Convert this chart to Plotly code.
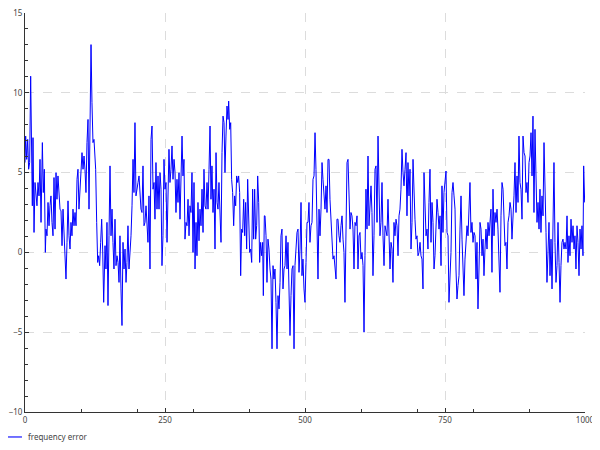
import plotly.graph_objects as go

# sample index and frequency error values
sample = [
    0, 1.2, 3.0, 4.8, 6.5, 8.3, 10.1, 11.9, 13.1, 14.3, 16.1, 17.9, 19.6, 21.4, 23.2, 25.0, 26.8, 28.6,
    31.0, 32.7, 34.5, 36.3, 37.5, 39.3, 41.1, 42.9, 44.6, 46.4, 48.2, 50.0, 51.8, 53.6, 55.4, 57.1,
    58.9, 60.7, 62.5, 64.3, 66.1, 67.9, 69.6, 71.4, 73.2, 75.0, 76.8, 78.6, 80.4, 82.1, 83.9, 85.7,
    87.5, 89.3, 91.1, 92.9, 94.6, 96.4, 98.2, 100.0, 101.8, 103.6, 105.4, 107.1, 108.9, 110.7, 112.5,
    114.3, 116.1, 117.9, 119.6, 121.4, 123.2, 124.4, 126.2, 128.0, 129.8, 131.5, 133.3, 135.1, 136.9,
    138.7, 140.5, 142.9, 144.6, 146.4, 148.2, 150.0, 151.8, 153.6, 155.4, 157.1, 158.9, 160.7, 162.5,
    164.3, 166.1, 167.9, 169.6, 171.4, 173.2, 175.0, 176.8, 178.6, 180.4, 182.1, 183.9, 185.7, 187.5,
    189.3, 191.1, 192.9, 194.6, 196.4, 198.2, 200.0, 201.8, 203.6, 205.4, 207.1, 208.9, 210.7, 212.5,
    214.3, 216.1, 217.9, 219.6, 221.4, 223.2, 225.0, 226.8, 228.6, 230.4, 232.1, 233.9, 235.7, 237.5,
    239.3, 241.1, 242.9, 244.6, 246.4, 248.2, 250.0, 251.8, 253.6, 255.4, 257.1, 258.9, 260.7, 262.5,
    264.3, 266.1, 267.9, 269.6, 271.4, 273.2, 275.0, 276.8, 278.6, 280.4, 282.1, 283.9,
    285.7, 287.5, 289.3, 291.1, 292.9, 294.6, 296.4, 298.2, 300.0, 301.8, 303.6, 305.4, 307.1, 308.9,
    310.7, 312.5, 314.3, 316.1, 317.9, 319.6, 321.4, 323.2, 325.0, 326.8, 328.6, 330.4, 332.1, 333.9,
    335.7, 337.5, 339.3, 341.1, 342.9, 344.6, 346.4, 348.2, 350.0, 351.8, 353.6, 355.4, 357.1, 358.9,
    360.7, 362.5, 363.7, 365.5, 367.3, 369.0, 370.8, 372.6, 374.4, 376.2, 378.0, 379.8, 381.5, 383.3,
    385.1, 386.9, 388.7, 390.5, 392.3, 394.0, 395.8, 397.6, 399.4, 401.2, 403.0, 404.8, 406.5, 408.3,
    410.1, 411.9, 413.7, 415.5, 417.3, 419.0, 420.8, 422.6, 424.4, 425.6, 427.4,
    428.6, 430.4, 432.1, 433.9, 435.7, 437.5, 439.3, 441.1, 442.9, 444.6, 446.4, 448.2, 450.0, 451.8,
    453.6, 455.4, 457.1, 458.9, 460.7, 462.5, 464.3, 466.1, 467.9, 469.6, 471.4, 473.2, 475.0, 476.8,
    478.6, 480.4, 482.1, 483.9, 485.7, 487.5, 489.3, 491.1, 492.9, 494.6, 496.4, 498.2, 500.0, 501.8,
    503.6, 505.4, 507.1, 508.9, 510.7, 512.5, 514.3, 516.1, 517.9, 519.6, 521.4, 523.2, 525.0, 526.8,
    528.6, 530.4, 532.1, 533.9, 535.7, 537.5, 539.3, 541.1, 542.9, 544.6, 546.4, 548.2, 550.0, 551.8,
    553.6, 555.4, 557.1, 558.9, 560.7, 562.5, 564.3, 566.1, 567.9, 569.6,
    571.4, 573.2, 575.0, 576.8, 578.6, 580.4, 582.1, 583.9, 585.7, 587.5, 589.3, 591.1, 592.9, 594.6,
    596.4, 598.2, 600.0, 601.8, 603.6, 605.4, 607.1, 608.9, 610.7, 612.5, 614.3, 616.1, 617.9, 619.6,
    621.4, 623.2, 625.0, 626.8, 628.6, 630.4, 632.1, 633.9, 635.7, 637.5, 639.3, 641.1, 642.9, 644.6,
    646.4, 648.2, 650.0, 651.8, 653.6, 655.4, 657.1, 658.9, 660.7, 662.5, 664.3, 666.1, 667.9, 669.6,
    671.4, 673.2, 675.0, 676.8, 678.6, 680.4, 682.1, 683.9, 685.7, 687.5, 689.3, 691.1, 692.9, 694.6,
    696.4, 698.2, 700.0, 701.8, 703.6, 705.4, 707.1, 708.9, 710.7, 712.5,
    714.3, 716.1, 717.9, 719.6, 721.4, 723.2, 725.0, 726.8, 728.6, 730.4, 732.1, 733.9, 735.7, 737.5,
    739.3, 741.1, 742.9, 744.6, 746.4, 748.2, 750.0, 751.8, 753.6, 755.4, 757.1, 758.9, 760.7, 762.5,
    764.3, 766.1, 767.9, 769.6, 771.4, 773.2, 775.0, 776.8, 778.6, 780.4, 782.1, 783.9, 785.7, 787.5,
    789.3, 791.1, 792.9, 794.6, 796.4, 798.2, 800.0, 801.8, 803.6, 805.4, 807.1, 808.9, 810.7, 812.5,
    814.3, 816.1, 817.9, 819.6, 821.4, 823.2, 825.0, 826.8, 828.6, 830.4, 832.1, 833.9, 835.7, 837.5,
    839.3, 841.1, 842.9, 844.6, 846.4, 848.2, 850.0, 851.8, 853.6, 855.4,
    857.1, 858.9, 860.7, 862.5, 864.3, 866.1, 867.9, 869.6, 871.4, 873.2, 875.0, 876.8, 878.6, 880.4,
    882.1, 883.9, 885.7, 887.5, 889.3, 891.1, 892.9, 894.6, 896.4, 898.2, 900.0, 901.8, 903.6, 905.4,
    907.1, 908.9, 910.7, 912.5, 914.3, 916.1, 917.9, 919.6, 921.4, 923.2, 925.0, 926.8, 928.6, 930.4,
    932.1, 933.9, 935.7, 937.5, 939.3, 941.1, 942.9, 944.6, 946.4, 948.2, 950.0, 951.8, 953.6, 955.4,
    957.1, 958.9, 960.7, 962.5, 964.3, 966.1, 967.9, 969.6, 971.4, 973.2, 975.0, 976.8, 978.6, 980.4,
    982.1, 983.9, 985.7, 987.5, 989.3, 991.1, 992.9, 994.6, 996.4, 997.6, 999.4,
]

freq_error = [
    5.63, 7.29, 5.83, 7.08, 5.21, 5.63, 11.04, 5.0, 2.92, 7.19, 1.25, 4.38, 3.75, 2.92, 4.38, 3.54, 5.83, 1.88,
    6.88, 3.75, 5.21, 0.0, 1.46, 1.04, 3.13, 1.67, 2.92, 3.54, 1.88, 1.04, 4.69, 1.46, 5.0, 3.33,
    4.79, 3.54, 2.71, 2.6, 0.42, 2.71, 1.04, 0.42, -1.67, 0.63, 3.23, 1.04, 0.21, 1.88, 1.04, 2.71,
    1.67, 2.5, 1.67, 4.58, 5.21, 2.71, 4.17, 5.63, 6.25, 5.21, 6.04, 5.21, 3.75, 6.88, 8.33,
    2.71, 8.13, 13.02, 9.38, 6.88, 7.08, 6.25, 5.21, 1.88, -0.63, -0.21, -0.83, 0.63, 2.08,
    0.21, -3.13, 0.42, -1.04, 1.88, -3.33, 1.04, 5.42, 1.04, 2.71, 0.63, -1.04, 2.08, -0.83,
    -0.21, -0.63, -1.88, 1.04, -2.29, -4.58, 0.63, -1.04, 0.21, -1.88, -0.63, 1.67, -1.04, -0.21,
    1.04, 2.92, 5.83, 3.75, 8.13, 3.54, 4.17, 4.38, 4.79, 3.54, 2.71, 2.5, 5.42, 1.67,
    1.88, 2.92, 1.25, 0.63, 3.54, -1.04, 7.08, 7.92, 3.96, 4.38, 2.08, 5.63, 2.71, 4.79,
    2.71, 5.0, 3.96, -0.83, 1.04, 5.83, 3.96, 4.38, 0.63, 3.96, 6.46, 4.38, 5.21, 6.67,
    4.58, 5.83, 5.0, 2.5, 4.58, 3.13, 5.0, 2.08, 4.79, 7.29, 4.79, 5.83,
    0.83, 1.88, 1.67, 3.33, 1.04, 2.92, 2.5, 5.0, 0.0, 4.38, -1.04, 1.88, -0.21, 3.13,
    0.73, 2.71, 1.67, 3.96, 1.25, 5.21, 2.92, 2.71, 4.38, 2.71, 5.21, 7.92, 3.33, 5.42,
    2.5, 3.96, 0.21, 6.25, 3.13, 2.71, 4.38, 2.71, 0.63, 6.25, 8.54, 8.13, 5.0, 7.29,
    9.17, 8.33, 9.48, 7.71, 8.13, 4.58, 3.75, 1.67, 3.54, 2.92, 4.79, 4.38, 4.79, 3.75,
    -1.46, 1.46, 1.25, 3.33, 1.04, 3.13, 0.21, 4.58, 1.88, 0.0, 0.21, -0.63, 3.96, 0.83,
    3.96, 0.83, 1.67, 4.79, 3.13, -0.63, 0.63, -0.21, 0.63, -2.71, 2.29,
    2.29, 1.04, -1.88, 0.83, 0.21, -1.04, -1.67, -6.04, -0.83, -1.67, -1.04, -3.13, -6.04, -2.71,
    -3.54, -1.88, 1.04, 1.46, -2.29, -1.04, -0.83, 1.04, -1.04, 0.63, -3.54, -5.21, -2.71, -1.04,
    -0.83, -6.04, -0.83, 0.21, 1.25, 1.46, -1.25, 0.21, 3.13, -1.46, -0.42, -2.29, -3.13, -0.63,
    1.88, 1.88, 3.13, 0.63, 1.67, 1.88, 4.58, 4.79, 7.5, 5.21, 0.0, -1.67, 2.71, 1.04,
    2.71, 5.63, 4.58, 3.13, 2.71, 4.17, 2.5, 5.83, 5.83, 3.33, 1.88, 1.04, -0.42, -0.21,
    -1.04, -1.67, 2.08, 2.08, 1.04, 0.63, 1.67, 2.29, 0.83, 0.0,
    -3.13, 0.21, 5.63, 5.83, 3.96, 1.46, 2.5, 2.29, 1.46, -1.04, 1.88, 1.67, 2.29, -1.04,
    1.04, 1.25, -0.42, 0.0, -0.83, -5.0, -0.21, 3.96, 1.46, 6.04, 1.67, 2.71, 4.17, 2.5,
    -1.46, 1.04, 5.21, 5.42, 1.88, 7.29, 3.54, 1.04, 1.88, 4.38, 1.04, -0.83, 1.67, 1.25,
    1.04, 3.33, 1.46, -1.04, 0.63, 0.21, -1.88, 1.88, 1.04, 2.08, 1.67, -0.21, 2.29, 2.71,
    3.96, 6.46, 5.0, 4.17, 5.21, 6.25, 2.29, 5.63, 3.54, 5.21, 0.21, 1.88, 5.83, 3.13,
    2.08, 0.83, 1.04, -0.21, 0.0, 0.63, -0.21, -0.42, -2.29, 5.0,
    3.54, 1.04, 1.46, 0.21, 3.13, 5.21, 0.63, 3.13, 1.88, -1.04, -0.21, 1.88, 3.33, 2.5,
    1.46, 2.29, -0.83, 4.17, 1.25, 3.75, 4.79, 5.1, 1.25, 1.04, -3.13, -1.46, 0.0, 3.75,
    4.38, 3.54, 2.71, -1.04, -2.92, -2.08, -1.46, 1.46, 3.54, 0.83, -1.67, -2.71, -0.42, 0.63,
    1.67, 1.04, 2.29, 4.38, 1.25, 1.88, 0.63, 1.25, 1.04, -1.67, 0.63, -3.54, -1.04, 1.88,
    1.46, -0.21, 0.83, -1.46, 0.21, 1.46, 0.21, 1.88, 1.04, 2.29, 2.71, -1.25, 3.96, 1.04,
    2.5, 1.88, 2.71, 1.46, 0.0, -2.5, 2.29, 4.38, 3.96, 1.88,
    0.42, 0.63, -1.04, 1.88, 2.29, 3.13, 2.71, 0.83, 1.88, 3.54, 5.63, 2.5, 4.79, 3.13,
    7.29, 4.38, 3.96, 2.08, 7.29, 6.25, 6.04, 3.75, 4.38, 3.13, 5.63, 6.04, 7.5, 4.79,
    8.54, 2.5, 7.71, 3.54, 1.88, 3.13, 1.46, 3.96, 1.25, 3.54, 2.29, 6.88, 2.71, 1.25,
    -1.88, 0.21, 1.88, -1.46, 0.83, -2.29, 1.46, 5.63, 0.63, -1.88, -0.83, 1.88, -0.63, -3.13,
    -0.83, 0.63, 0.83, 0.21, 0.63, 0.21, 2.29, -0.63, 1.04, -0.21, 2.08, 0.63, 1.67, 0.21,
    1.04, -1.04, 1.67, 0.63, -1.46, 1.46, 0.21, 1.67, -0.21, 5.42, 3.13,
]

series_name = "frequency error"
x_ticks = [0, 250, 500, 750, 1000]
y_ticks = [-10, -5, 0, 5, 10, 15]

fig = go.Figure()
fig.add_trace(go.Scatter(x=sample, y=freq_error, mode="lines", name=series_name,
                         line=dict(color="#0000ff", width=1.0), showlegend=False))

axis_font = dict(family="Noto Sans", size=8, color="#444")
fig.update_xaxes(range=[0, 1000], tickvals=x_ticks, showline=True, linecolor="#333", linewidth=1,
                 ticks="inside", ticklen=4, tickcolor="#333", showgrid=True, gridcolor="#dcdcdc",
                 griddash="dash", zeroline=False, tickfont=axis_font, automargin=False,
                 ticklabeloverflow="allow",
                 minor=dict(ticks="inside", ticklen=3, dtick=100, tickcolor="#333", showgrid=False))
fig.update_yaxes(range=[-10, 15], tickvals=y_ticks, showline=True, linecolor="#333", linewidth=1,
                 ticks="inside", ticklen=4, tickcolor="#333", showgrid=True, gridcolor="#dcdcdc",
                 griddash="dash", zeroline=False, tickfont=axis_font, automargin=False,
                 ticklabeloverflow="allow",
                 minor=dict(ticks="inside", ticklen=3, dtick=1, tickcolor="#333", showgrid=False))

# legend drawn by hand below the plot, bottom-left (short line sample + label)
fig.add_shape(type="line", xref="paper", yref="paper", x0=-0.0304, x1=-0.0054, y0=-0.0626, y1=-0.0626,
              line=dict(color="#0000ff", width=1.1))
fig.add_annotation(text=series_name, xref="paper", yref="paper", x=0.0018, y=-0.0626,
                   xanchor="left", yanchor="middle", showarrow=False,
                   font=dict(family="Noto Sans", size=8, color="#444"))

# the page body adds 8px offset, margins compensate so the plot lands where the reference has it
fig.update_layout(
    width=600, height=450,
    margin=dict(l=17, r=23, t=5, b=46, autoexpand=False),
    plot_bgcolor="white", paper_bgcolor="white",
    font=dict(family="Noto Sans", size=8, color="#444"),
    showlegend=False,
)

fig.write_html("out.html")
